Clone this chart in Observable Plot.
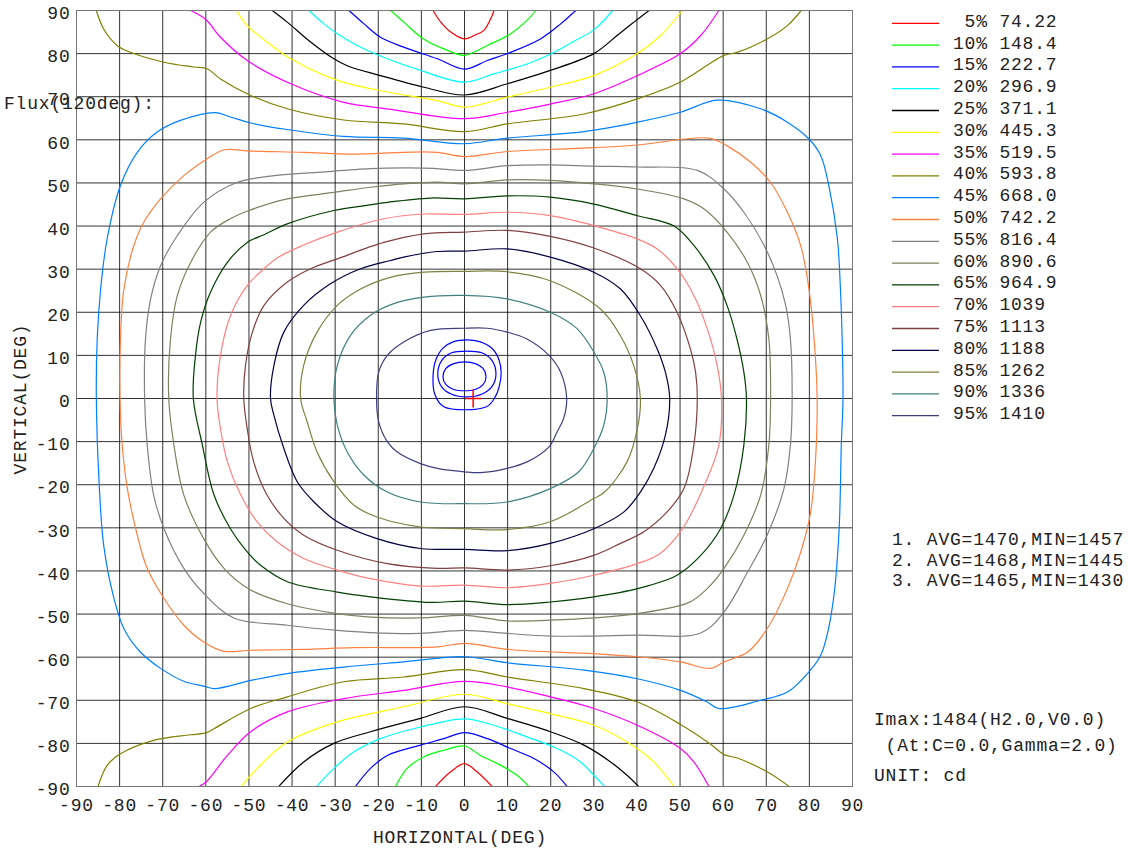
<!DOCTYPE html>
<html><head><meta charset="utf-8">
<script src="https://cdn.jsdelivr.net/npm/d3@7"></script>
<script src="https://cdn.jsdelivr.net/npm/@observablehq/plot@0.6"></script>
<style>
body{margin:0;background:#fff;}
#chart{position:relative;width:1137px;height:850px;}
#chart svg text{letter-spacing:0.8px;}
</style></head><body><div id="chart"></div>
<script>
// ---- legend data ----
const levelPct = ["5%","10%","15%","20%","25%","30%","35%","40%","45%","50%","55%","60%","65%","70%","75%","80%","85%","90%","95%"];
const levelVal = ["74.22","148.4","222.7","296.9","371.1","445.3","519.5","593.8","668.0","742.2","816.4","890.6","964.9","1039","1113","1188","1262","1336","1410"];
const avgLines = ["1. AVG=1470,MIN=1457","2. AVG=1468,MIN=1445","3. AVG=1465,MIN=1430"];
const infoLines = ["Imax:1484(H2.0,V0.0)"," (At:C=0.0,Gamma=2.0)","UNIT: cd"];
const fluxLabel = "Flux(120deg):";
const xTicks = [-90,-80,-70,-60,-50,-40,-30,-20,-10,0,10,20,30,40,50,60,70,80,90];
const yTicks = [-90,-80,-70,-60,-50,-40,-30,-20,-10,0,10,20,30,40,50,60,70,80,90];
const imax = [{h: 2.0, v: 0.0}];

// ---- isocandela contours [H, V] in degrees ----
const c05Top = [[-7.3,90],[-5.5,87.3],[-3.2,85],[0,83.4],[2.2,84.2],[4.5,85.4],[6.4,88.8],[6.8,90]];
const c05Bot = [[-6.7,-90],[-3.2,-86.6],[0,-84.7],[2.9,-86.6],[6.4,-90]];
const c10Top = [[-17.1,90],[-14.1,87.3],[-9.5,83.4],[-4.8,81.1],[0,79.6],[5.3,81.9],[10.7,84.6],[14.5,87.7],[16.5,90]];
const c10Bot = [[-16,-90],[-13.3,-85.8],[-9.4,-83.1],[-4.8,-81.6],[0,-80.6],[3.7,-82.8],[8.4,-85.1],[12.2,-87.4],[14.9,-90]];
const c15Top = [[-26.8,90],[-23.3,86.9],[-19.5,83.8],[-14.1,81.5],[-6.3,78.8],[0,76.4],[5.3,78.4],[10.7,80.3],[17.6,83.4],[22.3,86.9],[25.8,90]];
const c15Bot = [[-25.3,-90],[-21.8,-85.8],[-17.9,-82.8],[-10.2,-80.4],[-4.8,-78.9],[0,-77.5],[5.3,-78.9],[10.7,-81.2],[16.1,-83.5],[20.7,-86.6],[23.8,-90]];
const c20Top = [[-36.1,90],[-32.6,86.9],[-29.5,84.6],[-24.9,81.9],[-17.9,78.8],[-10.2,76.1],[0,73.4],[6.8,75.3],[14.5,77.6],[20,79.9],[26,83.2],[30,85.5],[34.4,90]];
const c20Bot = [[-34.3,-90],[-30.3,-85.8],[-25.7,-82],[-19.5,-78.9],[-10.2,-76.2],[0,-74.3],[6.8,-75.8],[14.5,-78.5],[21.5,-81.2],[26.9,-84.3],[30,-87.4],[32.5,-90]];
const c25Top = [[-44.6,90],[-41.1,87.3],[-35.7,82.7],[-30.3,78.8],[-27.2,77.2],[-19.5,74.9],[-9.4,72.2],[0,70.4],[9.9,73],[19.9,76.1],[30,80],[35.4,84.2],[39.3,87.3],[42.8,90]];
const c25Bot = [[-43.1,-90],[-37.3,-84.3],[-30.3,-80],[-21.8,-77.3],[-10.2,-74.2],[0,-71.5],[9.9,-74.2],[19.9,-77.3],[27.7,-80.4],[33.9,-84.3],[37.7,-87.4],[40.4,-90]];
const c30Top = [[-52.9,90],[-50.4,86.5],[-45.8,82.7],[-40.3,78.8],[-29.5,73.8],[-17.9,71.1],[-6.3,69.1],[0,67.6],[9.9,69.9],[19.9,72.2],[30,74.9],[40.1,80],[45.5,84.2],[50.5,90]];
const c30Bot = [[-51.8,-90],[-48.1,-85.8],[-41.1,-79.7],[-29.5,-75],[-14.1,-71.5],[0,-68.6],[9.9,-70.8],[19.9,-73.1],[30,-75.8],[37.7,-79.7],[43.9,-84.3],[48.6,-90]];
const c35Top = [[-63.5,90],[-60,87.9],[-56.6,83.8],[-50.4,78.4],[-40.3,73],[-28,68.7],[-17.9,67.2],[0,64.9],[9.9,66.4],[19.9,68.3],[30,70.7],[40.1,74.9],[50.1,80],[54.8,84.2],[59,90]];
const c35Bot = [[-61.6,-90],[-60,-89],[-55,-82.8],[-49.6,-77.3],[-41.1,-72.7],[-28,-69.6],[-14.1,-67.7],[0,-65.6],[9.9,-66.9],[19.9,-69.2],[30,-71.9],[40.1,-75.8],[50.1,-81.2],[53.2,-84.3],[56.7,-90]];
const c40Top = [[-85.4,90],[-83.7,85.7],[-80.6,81.9],[-77.5,80.3],[-69.7,78],[-62.8,76.9],[-59.7,76.5],[-56.6,74.1],[-49.6,70.3],[-41.1,67.2],[-28,64.6],[-14.1,63.7],[0,61.9],[9.9,63.7],[27.7,66],[40.1,69.5],[50.1,73.4],[56.3,77.3],[60.2,79.6],[63.3,80.3],[70.2,83.4],[74.9,86.5],[78.1,90]];
const c40Bot = [[-85,-90],[-82.9,-85.1],[-79.8,-82.4],[-72.1,-79.3],[-63.6,-78],[-59.8,-77.5],[-58.1,-76.6],[-49.6,-71.9],[-41.1,-69.2],[-28,-65.7],[-14.1,-64.6],[0,-62.9],[9.9,-64.6],[27.7,-67.3],[40.1,-70.4],[50.1,-75.6],[57.1,-80.2],[60.2,-82.6],[63.3,-83.4],[70.2,-86.6],[75.3,-90]];
const c45 = [[-85.4,0],[-85.2,13.8],[-84.4,25.4],[-82.9,37],[-79.8,49.4],[-75.9,57.1],[-71.3,61.8],[-65.9,64.5],[-57.7,66.3],[-54.3,65.3],[-49.6,63.9],[-41.1,62.4],[-28,60.8],[-14.1,60.4],[0,59.1],[9.9,60.4],[27.7,61.9],[40.1,64.1],[50.1,66.4],[58.6,69.2],[68.7,67.2],[74.9,64.1],[79.9,60.2],[82.6,56.4],[84.5,49.4],[86.5,37],[87.2,25.4],[87.6,13.8],[87.8,0],[87.4,-10.8],[86.9,-30.2],[85.7,-45.6],[84.1,-54.9],[82.6,-59.6],[79.9,-63.4],[74.9,-68.1],[68.7,-70],[59,-71.9],[56.3,-70.4],[50.1,-67.7],[40.1,-65],[27.7,-63],[9.9,-61.3],[0,-59.9],[-14.1,-61.1],[-28,-62.3],[-41.1,-63.8],[-49.6,-65.4],[-58,-67.3],[-60.5,-66.7],[-65.1,-65.6],[-70.5,-62.6],[-75.2,-58.8],[-79,-53.4],[-81.3,-46.4],[-83.7,-34],[-84.8,-18.6]];
const c50 = [[-79.9,0],[-79.8,13.8],[-79,25.4],[-76.7,35.5],[-74.4,40.9],[-70.5,46.3],[-65.1,51.7],[-59.7,55.6],[-55.7,57.7],[-49.6,57.4],[-37.3,57.1],[-25.7,56.7],[-14.1,57.1],[-6.3,57.1],[0,56.1],[9.9,57.3],[26.1,58],[40.1,58.8],[56.7,60.4],[60.9,58.6],[66.4,54.8],[71,50.1],[74.9,43.2],[78,35.4],[79.9,25.4],[81.1,13.8],[81.8,0],[81.4,-14.7],[80.3,-26.3],[78,-35.6],[74.9,-44.1],[70.2,-53.4],[65.7,-58.8],[60.2,-61.1],[57.1,-62.6],[50.1,-61.1],[40.1,-59.9],[30,-59.2],[9.9,-58.2],[0,-56.8],[-6.3,-57.6],[-25.7,-57.8],[-37.3,-58.2],[-49.6,-58.4],[-56,-58.6],[-60.5,-56.5],[-65.1,-52.6],[-69.7,-46.4],[-73.6,-39.4],[-75.9,-31.7],[-78.2,-20.9],[-79.4,-10.8]];
const c55 = [[-74.2,0],[-74,13.8],[-72.8,23.1],[-70.5,30.8],[-66.6,37.8],[-60.5,45.5],[-53.1,50],[-45,51.6],[-33.4,52.5],[-21.8,53.3],[-14.1,53.5],[-7.1,53.4],[0,52.9],[9.9,54],[19.9,54.2],[30,53.9],[40.1,53.7],[54,52.9],[60.2,48.6],[64.8,43.2],[69.5,35.5],[72.5,28.5],[74.5,21.6],[75.6,13.8],[76,0],[75.6,-10.8],[74.1,-20.9],[70.2,-31.7],[65.7,-40.2],[60.2,-49.5],[54.8,-54.4],[40.1,-54.9],[30,-55.1],[19.9,-55.1],[9.9,-54.5],[0,-53.8],[-10.2,-54.5],[-21.8,-54.3],[-29.5,-53.8],[-41.1,-52.6],[-53.5,-50.9],[-60.5,-45.2],[-65.1,-39.4],[-69.7,-30.2],[-72.1,-22.4],[-73.6,-10.8]];
const c60 = [[-68.6,0],[-68.2,13.8],[-66.6,23.9],[-63.5,31.6],[-58.9,38.6],[-54.3,41.7],[-50,43.6],[-41.1,46.3],[-30.3,47.8],[-21.8,49],[-14.1,49.8],[-6.3,50.2],[0,49.8],[9.9,50.7],[19.9,50.6],[30,49.8],[40.1,48.6],[50.9,46.3],[55.5,44],[60.9,38.6],[65.6,31.6],[68.7,23.9],[70.6,13.8],[71,0],[70.6,-10.8],[68.7,-22.4],[64.8,-31.7],[60.2,-39.4],[56.3,-44.1],[52.1,-47.3],[40.1,-49.9],[30,-50.9],[19.9,-51.4],[9.9,-51.6],[0,-50.3],[-10.2,-50.9],[-21.8,-50.7],[-29.5,-49.9],[-41.1,-47.6],[-50,-44.2],[-55.8,-39.4],[-60.5,-32.5],[-65.1,-22.4],[-67.4,-10.8]];
const c65 = [[-62.9,0],[-62.4,10],[-61.2,17.7],[-58.9,24.7],[-55,31.6],[-50.4,36.2],[-46.5,38],[-41.1,40.5],[-30.3,43.6],[-22.6,44.8],[-17.9,45.5],[-7.9,46.5],[0,46.3],[9.9,47],[19.9,46.7],[30,45.1],[40.1,42.4],[48.6,40],[53.2,35.5],[57.9,28.5],[60.9,21.6],[63.2,13.8],[64.8,6.1],[65.4,0],[64.8,-10.8],[62.5,-22.4],[59.4,-30.2],[54.8,-36.4],[49.3,-41],[40.1,-44.1],[30,-46],[19.9,-47.2],[9.9,-47.8],[0,-47],[-7.9,-47.3],[-21.8,-46],[-29.5,-44.9],[-41.1,-42.5],[-47.3,-38.7],[-50.4,-35.6],[-54.3,-30.2],[-58.1,-22.4],[-60.8,-10.8]];
const c70 = [[-57.4,0],[-56.6,10],[-54.3,19.2],[-50.4,26.2],[-46.5,30.1],[-43.1,32.8],[-37.3,35.6],[-29.5,38.6],[-18.7,41.7],[-9.4,42.8],[0,42.7],[9.9,43.2],[19.9,42.4],[30,40.1],[40.1,37],[44.7,34.7],[49.3,30.1],[53.2,23.9],[56.3,16.2],[58.6,7.7],[59.6,0],[59,-10.8],[55.7,-20],[50.7,-30],[45.3,-36],[40.1,-38.3],[30,-41],[19.9,-42.9],[9.9,-43.9],[0,-43.3],[-10.2,-43.5],[-21.8,-41.8],[-29.5,-39.8],[-37.3,-37.1],[-43.4,-33.3],[-48.1,-28.6],[-51.9,-22.4],[-55,-14.7],[-56.6,-7]];
const c75 = [[-51.2,0],[-50.8,7.7],[-49.2,15.4],[-46.5,21.6],[-41.1,27],[-35.7,30.1],[-29.5,32.4],[-18.7,36.2],[-9.4,38.2],[0,38.6],[9.9,39],[19.9,37.6],[30,34.9],[40.8,30.1],[45.5,26.2],[49.3,20],[52.4,11.5],[53.6,6.1],[54,0],[53.2,-10.8],[50.9,-20.9],[47,-26.3],[41.6,-30.9],[36.2,-33.6],[30,-36.4],[19.9,-38.8],[9.9,-39.8],[0,-39.3],[-6.3,-39.4],[-17.9,-38.3],[-29.5,-35.2],[-37.3,-31.7],[-41.9,-27.8],[-45.8,-22.4],[-48.9,-14.7],[-50.4,-7]];
const c80 = [[-45,0],[-44.2,7.7],[-41.9,15.4],[-37.3,21.6],[-31.1,26.6],[-24.1,30.1],[-17.2,32],[-14.1,32.8],[-6.3,34.1],[0,34.2],[9.9,34.7],[19.9,32.8],[30,29.3],[36.2,25.4],[40.8,19.2],[44.7,11.5],[46.6,6.1],[47.6,0],[46.6,-8.5],[43.9,-16.2],[40.8,-21.7],[37,-26.3],[30,-30.2],[19.9,-33.6],[9.9,-35.3],[0,-35],[-10.2,-34.8],[-20.3,-32.5],[-29.5,-28.6],[-34.9,-24],[-38.8,-19.3],[-41.9,-11.6],[-44.2,-3.9]];
const c85 = [[-38,0],[-37.3,7.7],[-34.2,15.4],[-29.5,21.6],[-24.1,25.4],[-17.2,28.1],[-9.4,29.3],[0,29.5],[9.9,29.4],[19.9,27.3],[31.6,20.7],[36.2,14.5],[39.3,7.5],[40.8,0],[40.1,-7],[37.7,-14.7],[32.5,-21.7],[30,-23.2],[19.9,-28.6],[9.9,-30.4],[0,-30.2],[-10.2,-29.8],[-20.3,-27.5],[-25.7,-24.7],[-30.3,-19.3],[-34.2,-12.4],[-36.5,-5.4]];
const c90 = [[-30.3,0],[-29.5,7.7],[-26.4,14.7],[-21.8,19.3],[-16.4,22],[-9.4,23.5],[0,23.9],[9.9,23.1],[19.9,20],[26.1,16.2],[30,10.8],[32.3,6.1],[33.1,0],[32.3,-6.2],[30,-11.6],[26.5,-17],[19.9,-20.9],[9.9,-24],[0,-24.4],[-10.2,-24],[-17.9,-21.7],[-23.3,-17.8],[-27.2,-12.4],[-29.5,-6.2]];
const c95 = [[-20.4,0],[-19.9,6.1],[-17.9,10],[-14.1,13.1],[-7.9,15.8],[0,16.3],[5.3,16.3],[9.9,15.4],[14.5,13.8],[19.6,10],[22.3,6.1],[23.7,0],[23,-4.6],[21.5,-7.7],[19.6,-11.2],[14.5,-14.7],[9.9,-16.2],[3.7,-17.2],[0,-17],[-6.3,-16.2],[-10.2,-15.1],[-15.6,-12.4],[-17.9,-10],[-19.9,-5.4]];
// average-zone rings around Imax
const ring1 = [[-5,5.1],[-4.3,7],[-2.5,8.1],[0,8.5],[2.5,8.1],[4.3,7],[5,5.1],[4.3,3.2],[2.5,2.1],[0,1.8],[-2.5,2.1],[-4.3,3.2]];
const ring2 = [[-6.2,5.7],[-5.3,8.8],[-3,10.6],[0.5,11],[4,10.6],[6.4,8.8],[7.3,5.7],[6.4,2.8],[4,1],[0.5,0.4],[-3,1],[-5.3,2.7]];
const ring3 = [[-7.3,5],[-6.7,8.8],[-5,11.7],[-2.5,13.2],[0.5,13.6],[3.5,13.2],[6.3,11.7],[8,9],[8.5,6],[8.1,3],[7.2,0.5],[5.1,-1.9],[-4.8,-1.9],[-6.9,1]];

// ---- styles ----
const palette = ["#ff0000","#00ff00","#0000ff","#00ffff","#000000","#ffff00","#ff00ff","#808000","#0080ff","#ff8040","#808080","#808060","#004000","#ff8080","#804040","#000040","#808040","#408080","#404080"];

const contours = [
  {lv:0, pts:c05Top},{lv:0, pts:c05Bot},{lv:1, pts:c10Top},{lv:1, pts:c10Bot},
  {lv:2, pts:c15Top},{lv:2, pts:c15Bot},{lv:3, pts:c20Top},{lv:3, pts:c20Bot},
  {lv:4, pts:c25Top},{lv:4, pts:c25Bot},{lv:5, pts:c30Top},{lv:5, pts:c30Bot},
  {lv:6, pts:c35Top},{lv:6, pts:c35Bot},{lv:7, pts:c40Top},{lv:7, pts:c40Bot},
  {lv:8, pts:c45, closed:true},{lv:9, pts:c50, closed:true},{lv:10, pts:c55, closed:true},
  {lv:11, pts:c60, closed:true},{lv:12, pts:c65, closed:true},{lv:13, pts:c70, closed:true},
  {lv:14, pts:c75, closed:true},{lv:15, pts:c80, closed:true},{lv:16, pts:c85, closed:true},
  {lv:17, pts:c90, closed:true},{lv:18, pts:c95, closed:true}
];
const rings = [ring1, ring2, ring3];

const fontFam = "'Liberation Mono', 'DejaVu Sans Mono', monospace";
const W = 1137, H = 850;

const plot = Plot.plot({
  width: W, height: H,
  marginLeft: 76, marginRight: 285, marginTop: 10, marginBottom: 64,
  style: {fontFamily: fontFam, fontSize: "18px", color: "#222", background: "#fff", overflow: "visible"},
  x: {domain: [-90, 90]},
  y: {domain: [-90, 90]},
  marks: [
    Plot.gridX(xTicks, {stroke: "#000", strokeOpacity: 0.8, strokeWidth: 1}),
    Plot.gridY(yTicks, {stroke: "#000", strokeOpacity: 0.8, strokeWidth: 1}),
    ...contours.map(c => Plot.line(c.pts, {
      x: d => d[0], y: d => d[1], stroke: palette[c.lv], strokeWidth: 1.2,
      curve: c.closed ? "catmull-rom-closed" : "catmull-rom", clip: true
    })),
    ...rings.map(r => Plot.line(r, {x: d => d[0], y: d => d[1], stroke: "#0000ff", strokeWidth: 1.2, curve: "catmull-rom-closed"})),
    Plot.link(imax, {x1: d => d.h - 1.9, x2: d => d.h + 1.9, y1: d => d.v, y2: d => d.v, stroke: "#ff0000", strokeWidth: 1.5}),
    Plot.link(imax, {x1: d => d.h, x2: d => d.h, y1: d => d.v - 2.1, y2: d => d.v + 2.1, stroke: "#ff0000", strokeWidth: 1.5}),
    Plot.frame({stroke: "#777", strokeWidth: 1}),
    Plot.axisX(xTicks, {tickSize: 0, tickPadding: 12, tickFormat: d => String(d), label: null, fill: "#222"}),
    Plot.axisY(yTicks, {tickSize: 0, tickPadding: 6, tickFormat: d => String(d), label: null, dy: 3, fill: "#222"})
  ]
});

document.getElementById("chart").appendChild(plot);

// ---- annotations and legend (outside the plotting frame) ----
const svg = d3.select(plot);
const ann = svg.append("g").attr("font-family", fontFam).attr("font-size", 18)
  .attr("fill", "#222").attr("text-anchor", "start").style("white-space", "pre");

const legY0 = 23.3, legStep = 21.8;
levelPct.forEach((p, i) => {
  const y = legY0 + i * legStep;
  ann.append("line").attr("x1", 892).attr("x2", 939).attr("y1", y).attr("y2", y)
     .attr("stroke", palette[i]).attr("stroke-width", 1.3);
  ann.append("text").attr("x", 953).attr("y", y + 3.4)
     .text((" " + p).slice(-3) + " " + levelVal[i]);
});
avgLines.forEach((t, i) => {
  ann.append("text").attr("x", 892).attr("y", 545 + i * 20.5).text(t);
});
[725, 751, 781].forEach((y, i) => {
  ann.append("text").attr("x", 874).attr("y", y).text(infoLines[i]);
});
ann.append("text").attr("x", 4).attr("y", 109).text(fluxLabel);
ann.append("text").attr("text-anchor", "middle")
   .attr("transform", "translate(26,399) rotate(-90)").text("VERTICAL(DEG)");
ann.append("text").attr("text-anchor", "middle").attr("x", 460).attr("y", 843).text("HORIZONTAL(DEG)");
</script>
</body></html>
